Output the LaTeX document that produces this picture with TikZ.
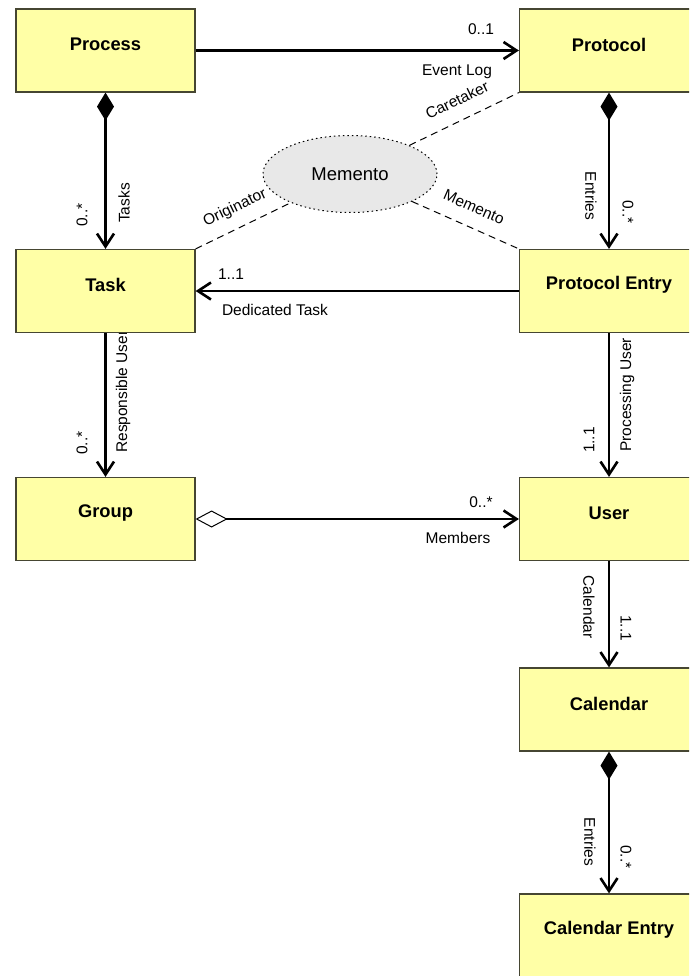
\documentclass[tikz,border=0pt]{standalone}
\usepackage{fontspec}
\setmainfont{Liberation Sans}
\usetikzlibrary{arrows.meta,shapes.geometric}
\pgfdeclarelayer{background}
\pgfsetlayers{background,main}
\definecolor{classfill}{RGB}{255,255,166}
\definecolor{classline}{RGB}{70,70,50}
\definecolor{collabfill}{RGB}{232,232,232}
\tikzset{
  classbox/.style={draw=classline, line width=1.2pt, fill=classfill,
    minimum width=179pt, minimum height=83pt, inner sep=0pt},
  classname/.style={font=\fontsize{18.3}{22}\selectfont\bfseries, yshift=6pt},
  role/.style={font=\fontsize{15.5}{18}\selectfont, inner sep=0pt},
  opentip/.style={-{Straight Barb[length=13pt,width=17pt]}},
  assoc/.style={line width=2.6pt, opentip},
  comp/.style={line width=2.6pt,
    {Diamond[length=28pt,width=17pt]}-{Straight Barb[length=13pt,width=17pt]}},
  aggr/.style={line width=2.6pt,
    {Diamond[open,length=32pt,width=17pt,line width=1pt]}-{Straight Barb[length=13pt,width=17pt]}},
  collab/.style={draw=black, line width=1pt, dash pattern=on 7pt off 5pt},
  collabnode/.style={ellipse, draw=black, line width=1pt, dash pattern=on 1.5pt off 3pt,
    fill=collabfill, minimum width=174pt, minimum height=77pt,
    font=\fontsize{18.5}{22}\selectfont},
}
\begin{document}
\begin{tikzpicture}[x=1pt, y=-1pt]
\clip (0,0) rectangle (689,976);
\begin{pgfonlayer}{background}
\fill[white] (0,0) rectangle (689,976);
\end{pgfonlayer}

% classes
\node[classbox, label={[classname]center:Process}]        (process)  at (105.5,50.5)  {};
\node[classbox, label={[classname]center:Protocol}]       (protocol) at (609,50.5)    {};
\node[classbox, label={[classname]center:Task}]           (task)     at (105.5,291)   {};
\node[classbox, label={[classname]center:Protocol Entry}] (pentry)   at (609,291)     {};
\node[classbox, label={[classname]center:Group}]          (group)    at (105.5,519)   {};
\node[classbox, label={[classname]center:User}]           (user)     at (609,519)     {};
\node[classbox, label={[classname]center:Calendar}]       (calendar) at (609,709.5)   {};
\node[classbox, label={[classname]center:Calendar Entry}] (centry)   at (609,935.5)   {};

% collaboration
\node[collabnode] (memento) at (350,174) {Memento};
\draw[collab] (task.north east) -- (memento);
\draw[collab] (memento) -- (protocol.south west);
\draw[collab] (memento) -- (pentry.north west);
\node[role, rotate=25.5]  (lorig) at (235,208) {Originator};
\node[role, rotate=25.9]  (lcare) at (457,100) {Caretaker};
\node[role, rotate=-23.7] (lmem)  at (474,207) {Memento};

% associations
\draw[assoc] (process.east) -- (protocol.west);
\node[role, anchor=base] (m1) at (481,35) {0..1};
\node[role, anchor=base] (r1) at (457,76) {Event Log};

\draw[comp] (process.south) -- (task.north);
\node[role, rotate=90] (r2) at (124,203) {Tasks};
\node[role, rotate=90] (m2) at (82,215)  {0..*};

\draw[comp] (protocol.south) -- (pentry.north);
\node[role, rotate=-90] (r3) at (591,196) {Entries};
\node[role, rotate=-90] (m3) at (628,212) {0..*};

\draw[assoc] (pentry.west) -- (task.east);
\node[role, anchor=base] (m4) at (231,279) {1..1};
\node[role, anchor=base] (r4) at (275,315) {Dedicated Task};

\draw[assoc] (task.south) -- (group.north);
\begin{pgfonlayer}{background}
\node[role, rotate=90, anchor=west] (r5) at (123,453) {Responsible User};
\end{pgfonlayer}
\node[role, rotate=90] (m5) at (82,443) {0..*};

\draw[assoc] (pentry.south) -- (user.north);
\node[role, rotate=90] (r6) at (627,395) {Processing User};
\node[role, rotate=90] (m6) at (589,440) {1..1};

\draw[aggr] (group.east) -- (user.west);
\node[role, anchor=base] (m7) at (481,507) {0..*};
\node[role, anchor=base] (r7) at (458,543) {Members};

\draw[assoc] (user.south) -- (calendar.north);
\node[role, rotate=-90] (r8) at (589,607) {Calendar};
\node[role, rotate=-90] (m8) at (626,628) {1..1};

\draw[comp] (calendar.south) -- (centry.north);
\node[role, rotate=-90] (r9) at (590,842) {Entries};
\node[role, rotate=-90] (m9) at (626,857) {0..*};
\end{tikzpicture}
\end{document}
